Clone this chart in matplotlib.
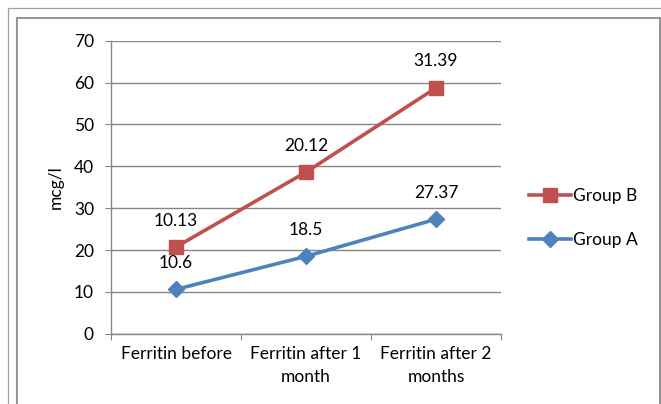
import numpy as np
import matplotlib.pyplot as plt
from matplotlib.patches import Rectangle
from matplotlib.lines import Line2D

plt.rcParams['font.family'] = ['Lato', 'DejaVu Sans']

# data
categories = ['Ferritin before', 'Ferritin after 1\nmonth', 'Ferritin after 2\nmonths']
group_a = [10.6, 18.5, 27.37]
group_b = [10.13, 20.12, 31.39]

# Excel stacked line: group B is drawn on top of group A
x = np.arange(1, len(categories) + 1)
stack_b = np.array(group_a) + np.array(group_b)

red = '#C0504D'
blue = '#4F81BD'
grey = '#868686'
fs = 12.5

fig = plt.figure(figsize=(6.61, 4.04), dpi=100)
ax = fig.add_axes([0.168, 0.174, 0.590, 0.725])

# frames around the chart
W, H = 661, 404
fig.add_artist(Rectangle((8 / W, -0.1), 1.2, 1 - 8 / H + 0.1, transform=fig.transFigure,
                         fill=False, edgecolor='#a0a0a0', lw=0.9))
fig.add_artist(Rectangle((17 / W, -0.1), (660 - 17) / W, 1 - 18 / H + 0.1, transform=fig.transFigure,
                         fill=False, edgecolor='#8a8a8a', lw=1.3))

ax.plot(x, group_a, color=blue, lw=2.6, marker='D', markersize=8, zorder=3)
ax.plot(x, stack_b, color=red, lw=2.6, marker='s', markersize=10, zorder=3)

for xi, ya, lab in zip(x, group_a, group_a):
    ax.text(xi, ya + 6.3, f'{lab:g}', ha='center', va='center', fontsize=fs)
for xi, yb, lab in zip(x, stack_b, group_b):
    ax.text(xi, yb + 6.3, f'{lab:.2f}', ha='center', va='center', fontsize=fs)

ax.set_xlim(0.5, 3.5)
ax.set_ylim(0, 70)
ax.set_yticks(range(0, 71, 10))
ax.set_xticks([0.5, 1.5, 2.5, 3.5])
ax.set_xticklabels([])
ax.set_xticks(x, minor=True)
ax.set_xticklabels(categories, minor=True, fontsize=fs, linespacing=1.5)
ax.tick_params(axis='x', which='minor', length=0, pad=9)
ax.tick_params(axis='x', which='major', length=4.3, color=grey, direction='out')
ax.tick_params(axis='y', length=4.3, color=grey, labelsize=fs, pad=8)
ax.yaxis.grid(True, color=grey, lw=1)
ax.set_axisbelow(True)
for s in ['top', 'right']:
    ax.spines[s].set_visible(False)
for s in ['left', 'bottom']:
    ax.spines[s].set_color(grey)
    ax.spines[s].set_linewidth(1)
ax.set_ylabel('mcg/l', fontsize=fs, labelpad=7)

handles = [Line2D([], [], color=red, lw=2.6, marker='s', markersize=10),
           Line2D([], [], color=blue, lw=2.6, marker='D', markersize=8)]
fig.legend(handles, ['Group B', 'Group A'], loc='center left',
           bbox_to_anchor=(0.777, 0.46), frameon=False, fontsize=fs,
           handlelength=2.4, handletextpad=0.1, labelspacing=1.6)

fig.savefig('out.png', dpi=100)
